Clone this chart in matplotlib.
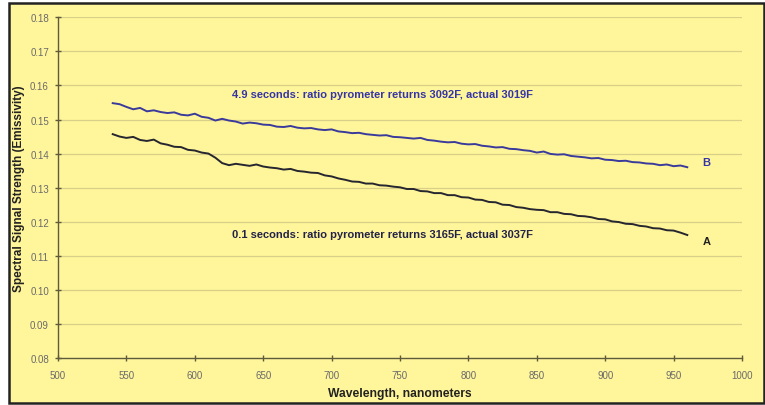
import matplotlib
matplotlib.use("Agg")
import matplotlib.pyplot as plt
from matplotlib.patches import Rectangle

plt.rcParams['font.family'] = ['Liberation Sans', 'DejaVu Sans']

wavelength = list(range(540, 965, 5))

series_b = [0.1548, 0.1545, 0.1537, 0.1530, 0.1534, 0.1524, 0.1527, 0.1522, 0.1519, 0.1521,
            0.1514, 0.1512, 0.1517, 0.1508, 0.1505, 0.1497, 0.1502, 0.1497, 0.1494, 0.1488,
            0.1491, 0.1489, 0.1485, 0.1484, 0.1479, 0.1478, 0.1481, 0.1476, 0.1474, 0.1475,
            0.1471, 0.1469, 0.1471, 0.1465, 0.1463, 0.1460, 0.1461, 0.1457, 0.1455, 0.1453,
            0.1454, 0.1449, 0.1448, 0.1446, 0.1444, 0.1446, 0.1440, 0.1438, 0.1435, 0.1433,
            0.1434, 0.1429, 0.1427, 0.1428, 0.1423, 0.1421, 0.1418, 0.1419, 0.1414, 0.1413,
            0.1410, 0.1408, 0.1403, 0.1406, 0.1399, 0.1397, 0.1398, 0.1393, 0.1391, 0.1389,
            0.1386, 0.1387, 0.1382, 0.1381, 0.1378, 0.1379, 0.1375, 0.1374, 0.1371, 0.1370,
            0.1366, 0.1368, 0.1363, 0.1365, 0.1360]

series_a = [0.1457, 0.1450, 0.1446, 0.1449, 0.1440, 0.1437, 0.1441, 0.1430, 0.1426, 0.1420,
            0.1419, 0.1411, 0.1409, 0.1403, 0.1400, 0.1388, 0.1372, 0.1366, 0.1370, 0.1367,
            0.1364, 0.1368, 0.1362, 0.1359, 0.1357, 0.1353, 0.1355, 0.1349, 0.1347, 0.1344,
            0.1343, 0.1336, 0.1333, 0.1327, 0.1323, 0.1318, 0.1317, 0.1312, 0.1312, 0.1307,
            0.1306, 0.1303, 0.1301, 0.1296, 0.1296, 0.1290, 0.1289, 0.1284, 0.1284, 0.1278,
            0.1278, 0.1272, 0.1271, 0.1265, 0.1264, 0.1258, 0.1257, 0.1250, 0.1249, 0.1243,
            0.1241, 0.1237, 0.1235, 0.1234, 0.1228, 0.1228, 0.1223, 0.1222, 0.1217, 0.1216,
            0.1213, 0.1208, 0.1207, 0.1201, 0.1199, 0.1194, 0.1193, 0.1188, 0.1186, 0.1181,
            0.1180, 0.1175, 0.1174, 0.1168, 0.1161]

x_ticks = list(range(500, 1050, 50))
y_ticks = [0.08, 0.09, 0.10, 0.11, 0.12, 0.13, 0.14, 0.15, 0.16, 0.17, 0.18]

label_b = "4.9 seconds: ratio pyrometer returns 3092F, actual 3019F"
label_a = "0.1 seconds: ratio pyrometer returns 3165F, actual 3037F"

W, H = 765, 406
fig = plt.figure(figsize=(W / 100, H / 100), dpi=100)
fig.patch.set_facecolor('white')
bg = '#fff59a'
fig.patches.append(Rectangle((9 / W, 1 - 404 / H), (764 - 9) / W, (404 - 4) / H,
                             transform=fig.transFigure, facecolor=bg,
                             edgecolor='#222222', linewidth=1.8, zorder=-10))

ax = fig.add_axes([58 / W, 1 - 359 / H, (742 - 58) / W, (359 - 18.3) / H])
ax.set_zorder(5)
ax.set_facecolor(bg)
ax.patch.set_alpha(0)

ax.plot(wavelength, series_b, color='#3a3a9c', linewidth=1.4)
ax.plot(wavelength, series_a, color='#262630', linewidth=1.4)

ax.set_xlim(500, 1000)
ax.set_ylim(0.08, 0.18)
ax.set_xticks(x_ticks)
ax.set_xticklabels([str(v) for v in x_ticks])
ax.set_yticks(y_ticks)
ax.set_yticklabels([f"{v:.2f}" for v in y_ticks])

for v in y_ticks[1:]:
    ax.axhline(v, color='#d8cf88', linewidth=0.9, zorder=0)

for s in ['top', 'right']:
    ax.spines[s].set_visible(False)
for s in ['left', 'bottom']:
    ax.spines[s].set_color('#5e5a3c')
    ax.spines[s].set_linewidth(1.0)

ax.tick_params(axis='both', direction='inout', length=5, width=1.0, color='#5e5a3c',
               labelsize=7, labelcolor='#6a6a6a')
ax.tick_params(axis='x', pad=6)
ax.tick_params(axis='y', pad=4)

ax.set_xlabel("Wavelength, nanometers", fontsize=8.7, fontweight='bold', color='#222222', labelpad=5)
ax.set_ylabel("Spectral Signal Strength (Emissivity)", fontsize=8.5, fontweight='bold',
              color='#222222')
ax.yaxis.set_label_coords(-33 / 684, 0.5)

ax.text(627, 0.1575, label_b, fontsize=8, fontweight='bold', color='#3535a8', va='center', ha='left')
ax.text(627, 0.1164, label_a, fontsize=8, fontweight='bold', color='#22224a', va='center', ha='left')
ax.text(974, 0.1375, "B", fontsize=8, fontweight='bold', color='#3535a8', va='center', ha='center')
ax.text(974.5, 0.1143, "A", fontsize=8, fontweight='bold', color='#222222', va='center', ha='center')

fig.savefig('out.png', dpi=100)
